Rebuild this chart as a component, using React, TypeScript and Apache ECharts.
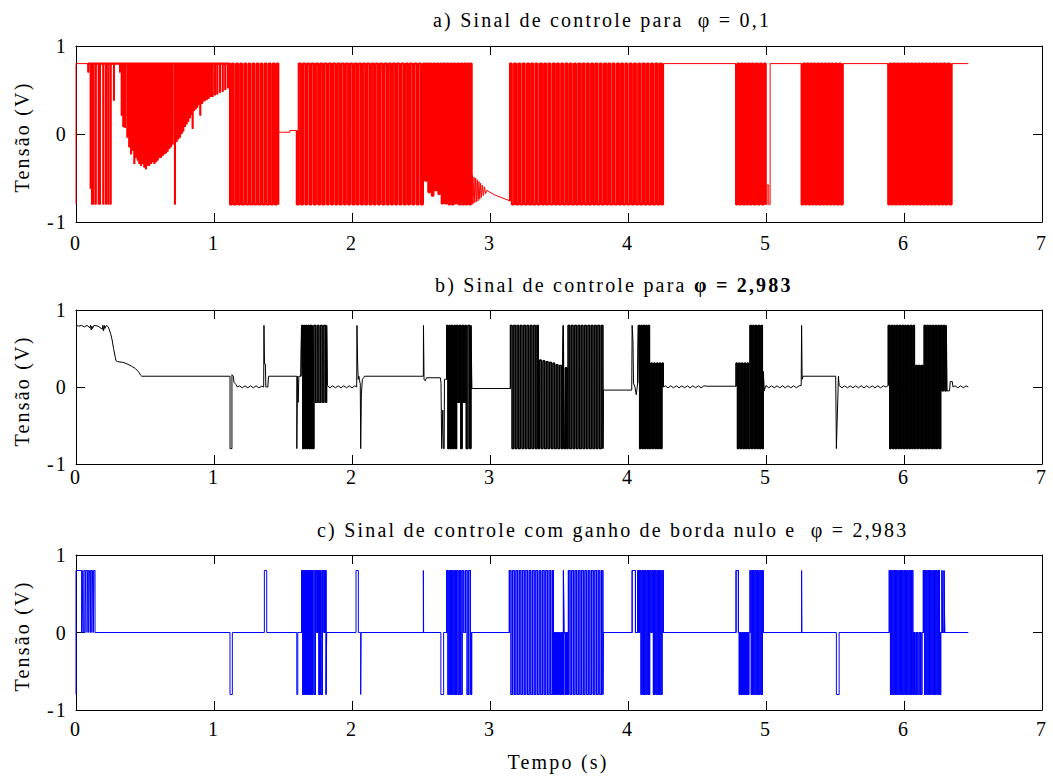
import React, { useEffect, useRef } from "react";
import * as echarts from "echarts";

type P = [number, number];

// ---------- axis ticks ----------
const xTicks = [0, 1, 2, 3, 4, 5, 6, 7];
const yTicks = [-1, 0, 1];

// ---------- titles ----------
const titleA = "a) Sinal de controle para  φ = 0,1";
const titleBPlain = "b) Sinal de controle para";
const titleBBold = "φ = 2,983";
const titleC = "c) Sinal de controle com ganho de borda nulo e  φ = 2,983";
const yName = "Tensão (V)";
const xName = "Tempo (s)";

// ---------- panel a (φ = 0,1), red ----------
const aLead: P[] = [[0, -0.8], [0, 0.8], [0.089, 0.8]];
const aDipsEarly: P[] = [[0.089, 0.7], [0.106, -0.62], [0.116, -0.8], [0.126, -0.8], [0.143, -0.8], [0.164, -0.8], [0.174, -0.8], [0.198, -0.8], [0.217, -0.8], [0.234, -0.8], [0.251, -0.8], [0.275, 0.38]];
const aDipsRamp: P[] = [[0.319, 0.7], [0.331, 0.21], [0.343, 0.08], [0.355, 0.07], [0.372, -0.04], [0.386, -0.15], [0.399, -0.23], [0.411, -0.19], [0.423, -0.34], [0.435, -0.27], [0.447, -0.3], [0.459, -0.34], [0.471, -0.36], [0.483, -0.34], [0.495, -0.38], [0.507, -0.4], [0.519, -0.36], [0.531, -0.36], [0.543, -0.34], [0.556, -0.32], [0.568, -0.34], [0.58, -0.32], [0.592, -0.3], [0.604, -0.27], [0.616, -0.27], [0.628, -0.25], [0.64, -0.23], [0.652, -0.22], [0.664, -0.2], [0.676, -0.17], [0.688, -0.15], [0.7, -0.12], [0.717, -0.8], [0.729, -0.09], [0.742, -0.06], [0.754, -0.04], [0.766, 0.0], [0.778, 0.03], [0.79, 0.08], [0.802, 0.11], [0.814, 0.14], [0.826, 0.18], [0.838, 0.22], [0.845, 0.06], [0.855, 0.26], [0.867, 0.28], [0.879, 0.3], [0.891, 0.33], [0.901, 0.21], [0.913, 0.34], [0.925, 0.37], [0.937, 0.38], [0.949, 0.39], [0.961, 0.4], [0.976, 0.42], [0.99, 0.42], [1.007, 0.44], [1.024, 0.45], [1.043, 0.47], [1.063, 0.48], [1.082, 0.5], [1.101, 0.52]];
const aBurst1: number[] = [1.116, 1.13, 1.143, 1.16, 1.174, 1.19, 1.203, 1.22, 1.233, 1.25, 1.262, 1.279, 1.292, 1.309, 1.321, 1.338, 1.35, 1.367, 1.38, 1.397, 1.41, 1.426, 1.44, 1.455, 1.466];
const aGap1: P[] = [[1.466, 0.02], [1.55, 0.02], [1.55, 0.04], [1.6, 0.04]];
const aBurst2: number[] = [1.6, 1.614, 1.63, 1.645, 1.662, 1.676, 1.693, 1.707, 1.724, 1.738, 1.755, 1.77, 1.786, 1.8, 1.817, 1.831, 1.848, 1.862, 1.879, 1.894, 1.91, 1.924, 1.941, 1.955, 1.972, 1.986, 2.003, 2.018, 2.034, 2.048, 2.065, 2.079, 2.096, 2.11, 2.127, 2.142, 2.158, 2.172, 2.189, 2.203, 2.22, 2.234, 2.251, 2.266, 2.282, 2.296, 2.313, 2.327, 2.344, 2.358, 2.375, 2.39, 2.406, 2.42, 2.437, 2.451, 2.468, 2.482, 2.499, 2.514];
const aBurst2Tail: P[] = [[2.529, -0.53], [2.54, 0.8], [2.553, -0.66], [2.565, 0.8], [2.578, -0.7], [2.59, 0.8], [2.603, -0.64], [2.615, 0.8], [2.626, -0.68], [2.638, 0.8], [2.65, -0.79], [2.662, 0.8], [2.675, -0.79], [2.687, 0.8], [2.7, -0.8], [2.712, 0.8], [2.725, -0.8], [2.737, 0.8], [2.75, -0.79], [2.762, 0.8], [2.775, -0.8], [2.787, 0.8], [2.8, -0.8], [2.812, 0.8], [2.825, -0.8], [2.837, 0.8], [2.85, -0.8], [2.86, 0.8], [2.867, -0.8]];
const aDecay: P[] = [[2.872, -0.47], [2.878, -0.79], [2.884, -0.49], [2.89, -0.78], [2.896, -0.5], [2.902, -0.77], [2.908, -0.52], [2.914, -0.76], [2.92, -0.54], [2.926, -0.74], [2.932, -0.56], [2.938, -0.72], [2.945, -0.58], [2.952, -0.7], [2.96, -0.6], [2.968, -0.68], [2.976, -0.64], [3.03, -0.69], [3.145, -0.76]];
const aBurst3: number[] = [3.145, 3.158, 3.175, 3.19, 3.206, 3.22, 3.237, 3.251, 3.268, 3.283, 3.299, 3.313, 3.33, 3.344, 3.361, 3.376, 3.392, 3.406, 3.423, 3.437, 3.454, 3.469, 3.485, 3.499, 3.516, 3.53, 3.547, 3.562, 3.578, 3.592, 3.609, 3.623, 3.64, 3.655, 3.671, 3.685, 3.702, 3.716, 3.733, 3.748, 3.764, 3.778, 3.795, 3.809, 3.826, 3.841, 3.857, 3.871, 3.888, 3.902, 3.919, 3.934, 3.95, 3.964, 3.981, 3.995, 4.012, 4.027, 4.043, 4.057, 4.074, 4.088, 4.105, 4.12, 4.136, 4.15, 4.167, 4.181, 4.198, 4.213, 4.229, 4.242, 4.254];
const aFlat1: P[] = [[4.254, 0.8], [4.783, 0.8]];
const aBurst4: number[] = [4.783, 4.795, 4.808, 4.82, 4.833, 4.845, 4.858, 4.87, 4.884, 4.897, 4.911, 4.925, 4.94, 4.955, 4.97, 4.985, 4.998];
const aBurst4Tail: P[] = [[5.008, -0.58], [5.02, -0.8], [5.03, 0.8]];
const aFlat2: P[] = [[5.258, 0.8]];
const aBurst5: number[] = [5.258, 5.27, 5.283, 5.295, 5.308, 5.32, 5.333, 5.346, 5.358, 5.371, 5.384, 5.397, 5.41, 5.423, 5.436, 5.449, 5.462, 5.475, 5.488, 5.502, 5.515, 5.529, 5.542, 5.556];
const aFlat3: P[] = [[5.556, 0.8], [5.886, 0.8]];
const aBurst6: number[] = [5.886, 5.898, 5.911, 5.923, 5.936, 5.948, 5.961, 5.974, 5.986, 5.999, 6.012, 6.025, 6.038, 6.05, 6.063, 6.076, 6.089, 6.102, 6.115, 6.128, 6.141, 6.154, 6.167, 6.18, 6.193, 6.206, 6.219, 6.232, 6.246, 6.259, 6.272, 6.286, 6.3, 6.315, 6.33, 6.345];
const aEnd: P[] = [[6.345, 0.8], [6.466, 0.8]];

// ---------- panel b (φ = 2,983), black ----------
const bLead: P[] = [[0, 0.8], [0.02, 0.79], [0.04, 0.8], [0.06, 0.78], [0.08, 0.8], [0.1, 0.77], [0.105, 0.8], [0.11, 0.74], [0.115, 0.79], [0.12, 0.76], [0.13, 0.8], [0.16, 0.79], [0.19, 0.75], [0.195, 0.8], [0.2, 0.73], [0.205, 0.8], [0.21, 0.76], [0.22, 0.8], [0.234, 0.78], [0.25, 0.7], [0.262, 0.61], [0.272, 0.5], [0.283, 0.4], [0.29, 0.34], [0.3, 0.33], [0.34, 0.32], [0.37, 0.3], [0.403, 0.27], [0.43, 0.24], [0.452, 0.2], [0.47, 0.15], [0.476, 0.14], [1.116, 0.14], [1.116, -0.8], [1.13, -0.8], [1.13, 0.16], [1.14, 0.14], [1.145, 0.06], [1.16, 0.03], [1.17, 0.0], [1.185, 0.015], [1.205, -0.01], [1.225, 0.015], [1.245, -0.01], [1.265, 0.015], [1.285, -0.01], [1.305, 0.015], [1.325, -0.01], [1.345, 0.01], [1.36, 0.0], [1.362, 0.8], [1.366, 0.3], [1.372, 0.3], [1.376, 0.0], [1.39, 0.0], [1.395, 0.14], [1.6, 0.14], [1.6, -0.8], [1.605, -0.8], [1.605, 0.14], [1.61, -0.2], [1.615, 0.14], [1.63, 0.14]];
const bBurst1: P[] = [[1.635, 0.8], [1.643, -0.8], [1.651, 0.8], [1.659, -0.8], [1.667, 0.8], [1.675, -0.8], [1.683, 0.8], [1.691, -0.8], [1.699, 0.8], [1.707, -0.8], [1.713, 0.8], [1.718, -0.8], [1.724, 0.8], [1.736, -0.2], [1.748, 0.8], [1.76, -0.2], [1.772, 0.8], [1.784, -0.2], [1.796, 0.8], [1.808, -0.2], [1.816, 0.8], [1.82, 0.02]];
const bWave1: P[] = [[1.84, -0.01], [1.86, 0.015], [1.88, -0.01], [1.9, 0.015], [1.92, -0.01], [1.94, 0.015], [1.96, -0.01], [1.98, 0.015], [2.0, -0.01], [2.02, 0.015], [2.034, 0.0]];
const bMid1: P[] = [[2.036, 0.8], [2.041, 0.3], [2.045, 0.1], [2.05, 0.14], [2.055, 0.08], [2.06, 0.04], [2.063, -0.8], [2.066, -0.8], [2.068, -0.1], [2.075, 0.1], [2.085, 0.12], [2.09, 0.14], [2.517, 0.14], [2.518, 0.8], [2.521, 0.8], [2.522, 0.1], [2.53, 0.08], [2.54, 0.12], [2.64, 0.12], [2.645, 0.05], [2.65, -0.8], [2.655, -0.8], [2.658, -0.3], [2.662, -0.8], [2.668, -0.8], [2.67, 0.1], [2.686, 0.1]];
const bBurst2: P[] = [[2.686, 0.8], [2.695, -0.8], [2.704, 0.8], [2.713, -0.8], [2.722, 0.8], [2.731, -0.8], [2.74, 0.8], [2.749, -0.8], [2.758, 0.8], [2.768, -0.2], [2.778, 0.8], [2.788, -0.8], [2.798, 0.8], [2.808, -0.2], [2.818, 0.8], [2.828, -0.8], [2.84, 0.8], [2.852, -0.8], [2.862, 0.8], [2.867, -0.02]];
const bFlat2: P[] = [[3.148, -0.02]];
const bBurst3: P[] = [[3.148, 0.8], [3.16, -0.8], [3.172, 0.8], [3.184, -0.8], [3.196, 0.8], [3.208, -0.8], [3.22, 0.8], [3.232, -0.8], [3.244, 0.8], [3.256, -0.8], [3.268, 0.8], [3.28, -0.8], [3.292, 0.8], [3.304, -0.8], [3.316, 0.8], [3.328, -0.8], [3.34, 0.8], [3.35, -0.8], [3.36, 0.35], [3.372, -0.8], [3.384, 0.34], [3.396, -0.8], [3.408, 0.33], [3.42, -0.8], [3.432, 0.32], [3.444, -0.8], [3.456, 0.31], [3.468, -0.8], [3.48, 0.29], [3.492, -0.8], [3.504, 0.28], [3.516, -0.8], [3.526, 0.25], [3.531, 0.8], [3.536, -0.8], [3.546, 0.25], [3.556, -0.8], [3.566, 0.8], [3.578, -0.8], [3.59, 0.8], [3.602, -0.8], [3.614, 0.8], [3.626, -0.8], [3.638, 0.8], [3.65, -0.8], [3.662, 0.8], [3.674, -0.8], [3.686, 0.8], [3.698, -0.8], [3.71, 0.8], [3.722, -0.8], [3.734, 0.8], [3.746, -0.8], [3.758, 0.8], [3.77, -0.8], [3.782, 0.8], [3.794, -0.8], [3.806, 0.8], [3.818, -0.8], [3.821, -0.04]];
const bMid2: P[] = [[4.027, -0.04], [4.03, 0.8], [4.036, 0.6], [4.04, 0.05], [4.05, 0.0], [4.06, -0.1], [4.07, 0.05]];
const bBurst4: P[] = [[4.075, 0.8], [4.084, -0.8], [4.093, 0.8], [4.102, -0.8], [4.111, 0.8], [4.12, -0.8], [4.129, 0.8], [4.138, -0.8], [4.147, 0.8], [4.156, -0.8], [4.166, 0.31], [4.176, -0.8], [4.186, 0.31], [4.196, -0.8], [4.206, 0.31], [4.216, -0.8], [4.226, 0.31], [4.236, -0.8], [4.246, 0.31], [4.256, 0.0]];
const bWave2: P[] = [[4.27, 0.015], [4.29, -0.01], [4.31, 0.015], [4.33, -0.01], [4.35, 0.015], [4.37, -0.01], [4.39, 0.015], [4.41, -0.01], [4.43, 0.015], [4.45, -0.01], [4.47, 0.015], [4.49, -0.01], [4.51, 0.015], [4.53, -0.01], [4.55, 0.015], [4.57, 0.01], [4.783, 0.01]];
const bBurst5: P[] = [[4.783, 0.31], [4.793, -0.8], [4.803, 0.31], [4.813, -0.8], [4.823, 0.31], [4.833, -0.8], [4.843, 0.31], [4.853, -0.8], [4.863, 0.31], [4.873, -0.8], [4.884, 0.8], [4.894, -0.8], [4.904, 0.8], [4.914, -0.8], [4.924, 0.8], [4.934, -0.8], [4.944, 0.8], [4.954, -0.8], [4.964, 0.8], [4.974, -0.8], [4.98, 0.2], [4.985, -0.05]];
const bWave3: P[] = [[4.99, -0.03], [5.0, 0.02], [5.02, -0.01], [5.04, 0.015], [5.06, -0.01], [5.08, 0.015], [5.1, -0.01], [5.12, 0.015], [5.14, -0.01], [5.16, 0.015], [5.18, -0.01], [5.2, 0.015], [5.22, -0.01], [5.24, 0.015], [5.255, 0.02], [5.258, 0.8], [5.262, 0.1], [5.268, 0.14], [5.505, 0.14], [5.51, -0.8], [5.525, 0.14], [5.53, 0.02], [5.55, -0.01], [5.57, 0.015], [5.59, -0.01], [5.61, 0.015], [5.63, -0.01], [5.65, 0.015], [5.67, -0.01], [5.69, 0.015], [5.71, -0.01], [5.73, 0.015], [5.75, -0.01], [5.77, 0.015], [5.79, -0.01], [5.81, 0.015], [5.83, -0.01], [5.85, 0.015], [5.87, 0.0], [5.886, 0.02]];
const bBurst6: P[] = [[5.886, 0.8], [5.896, -0.8], [5.906, 0.8], [5.916, -0.8], [5.926, 0.8], [5.936, -0.8], [5.946, 0.8], [5.956, -0.8], [5.966, 0.8], [5.976, -0.8], [5.986, 0.8], [5.996, -0.8], [6.006, 0.8], [6.016, -0.8], [6.026, 0.8], [6.036, -0.8], [6.046, 0.8], [6.056, -0.8], [6.066, 0.8], [6.076, -0.8], [6.086, 0.28], [6.096, -0.8], [6.106, 0.28], [6.116, -0.8], [6.126, 0.28], [6.136, -0.8], [6.146, 0.8], [6.156, -0.8], [6.166, 0.8], [6.176, -0.8], [6.186, 0.8], [6.196, -0.8], [6.206, 0.8], [6.216, -0.8], [6.226, 0.8], [6.236, -0.8], [6.246, 0.8], [6.256, -0.8], [6.266, 0.8], [6.276, -0.05], [6.286, 0.8], [6.296, -0.05], [6.306, 0.8], [6.31, -0.05]];
const bEnd: P[] = [[6.33, -0.05], [6.335, 0.07], [6.35, 0.07], [6.355, 0.0], [6.37, 0.015], [6.39, -0.01], [6.41, 0.015], [6.43, -0.01], [6.45, 0.015], [6.466, 0.0]];

// ---------- panel c (ganho de borda nulo), blue ----------
const cStart: P[] = [[0, -0.8]];
const cLead: P[] = [[0, 0.8], [0.041, 0], [0.045, 0.8], [0.05, 0], [0.056, 0.8], [0.065, 0], [0.07, 0.8], [0.08, 0], [0.084, 0.8], [0.092, 0], [0.097, 0.8], [0.104, 0], [0.108, 0.8], [0.115, 0], [0.12, 0.8], [0.126, 0], [0.13, 0.8], [0.138, 0], [1.116, -0.8], [1.133, 0], [1.365, 0.8], [1.382, 0], [1.6, -0.8], [1.607, 0]];
const cBurst1: P[] = [[1.635, 0.8], [1.643, -0.8], [1.651, 0.8], [1.659, -0.8], [1.667, 0.8], [1.675, -0.8], [1.683, 0.8], [1.691, -0.8], [1.699, 0.8], [1.707, -0.8], [1.715, 0.8], [1.725, -0.8], [1.735, 0.8], [1.745, 0], [1.752, 0.8], [1.76, -0.8], [1.768, 0.8], [1.776, -0.8], [1.786, 0.8], [1.796, 0], [1.804, 0.8], [1.812, -0.8], [1.816, 0]];
const cMid1: P[] = [[2.029, 0.8], [2.046, 0], [2.063, -0.8], [2.066, 0], [2.517, 0.8], [2.519, 0], [2.644, -0.8], [2.664, 0]];
const cBurst2: P[] = [[2.686, 0.8], [2.695, -0.8], [2.704, 0.8], [2.713, -0.8], [2.722, 0.8], [2.731, -0.8], [2.74, 0.8], [2.749, -0.8], [2.758, 0.8], [2.768, -0.8], [2.778, 0.8], [2.788, -0.8], [2.798, 0.8], [2.81, 0], [2.822, 0.8], [2.834, -0.8], [2.846, 0.8], [2.858, -0.8], [2.867, 0]];
const cBurst3: P[] = [[3.14, 0.8], [3.152, -0.8], [3.164, 0.8], [3.176, -0.8], [3.188, 0.8], [3.2, -0.8], [3.212, 0.8], [3.224, -0.8], [3.236, 0.8], [3.248, -0.8], [3.26, 0.8], [3.272, -0.8], [3.284, 0.8], [3.296, -0.8], [3.308, 0.8], [3.32, -0.8], [3.332, 0.8], [3.344, -0.8], [3.356, 0.8], [3.368, -0.8], [3.38, 0.8], [3.392, -0.8], [3.404, 0.8], [3.416, -0.8], [3.428, 0.8], [3.44, -0.8], [3.452, 0.8], [3.46, -0.8], [3.468, 0], [3.476, -0.8], [3.484, 0], [3.492, -0.8], [3.5, 0], [3.508, -0.8], [3.516, 0], [3.524, -0.8], [3.532, 0.8], [3.536, 0], [3.544, -0.8], [3.552, 0], [3.56, -0.8], [3.568, 0.8], [3.58, -0.8], [3.592, 0.8], [3.604, -0.8], [3.616, 0.8], [3.628, -0.8], [3.64, 0.8], [3.652, -0.8], [3.664, 0.8], [3.676, -0.8], [3.688, 0.8], [3.7, -0.8], [3.712, 0.8], [3.724, -0.8], [3.736, 0.8], [3.748, -0.8], [3.76, 0.8], [3.772, -0.8], [3.784, 0.8], [3.796, -0.8], [3.808, 0.8], [3.818, -0.8], [3.821, 0]];
const cBurst4: P[] = [[4.03, 0.8], [4.054, 0], [4.07, 0.8], [4.078, 0], [4.085, 0.8], [4.094, -0.8], [4.103, 0.8], [4.112, -0.8], [4.121, 0.8], [4.13, -0.8], [4.139, 0.8], [4.148, -0.8], [4.157, 0.8], [4.166, 0], [4.175, 0.8], [4.184, -0.8], [4.193, 0.8], [4.202, -0.8], [4.211, 0.8], [4.22, -0.8], [4.229, 0.8], [4.238, -0.8], [4.247, 0.8], [4.256, 0]];
const cBurst5: P[] = [[4.783, 0.8], [4.8, 0], [4.806, -0.8], [4.812, 0], [4.82, -0.8], [4.828, 0], [4.836, -0.8], [4.844, 0], [4.852, -0.8], [4.86, 0], [4.868, -0.8], [4.876, 0], [4.884, 0.8], [4.893, -0.8], [4.902, 0.8], [4.911, -0.8], [4.92, 0.8], [4.929, -0.8], [4.938, 0.8], [4.947, -0.8], [4.956, 0.8], [4.965, -0.8], [4.974, 0.8], [4.98, 0]];
const cMid2: P[] = [[5.258, 0.8], [5.26, 0], [5.51, -0.8], [5.53, 0]];
const cBurst6: P[] = [[5.893, 0.8], [5.902, -0.8], [5.911, 0.8], [5.92, -0.8], [5.929, 0.8], [5.938, -0.8], [5.947, 0.8], [5.956, -0.8], [5.965, 0.8], [5.974, -0.8], [5.983, 0.8], [5.992, -0.8], [6.001, 0.8], [6.01, -0.8], [6.019, 0.8], [6.028, -0.8], [6.037, 0.8], [6.046, -0.8], [6.055, 0.8], [6.064, -0.8], [6.072, 0], [6.08, -0.8], [6.09, 0], [6.1, -0.8], [6.11, 0], [6.12, -0.8], [6.13, 0], [6.14, 0.8], [6.149, -0.8], [6.158, 0.8], [6.167, -0.8], [6.176, 0.8], [6.185, -0.8], [6.194, 0.8], [6.203, -0.8], [6.212, 0.8], [6.221, -0.8], [6.23, 0.8], [6.239, -0.8], [6.248, 0.8], [6.257, -0.8], [6.266, 0], [6.275, 0.8], [6.28, 0], [6.29, 0.8], [6.295, 0]];
const cEnd: P[] = [[6.466, 0]];

// ---------- assembling the polylines from the read values ----------
type Part =
  | { pts: P[]; thick?: boolean }
  | { sq: number[]; lv: P; thick?: boolean }
  | { steps: P[]; thick?: boolean }
  | { dips: P[]; base: number; thick?: boolean };

function build(parts: Part[]): { all: P[]; thick: P[][] } {
  const out: P[] = [];
  const thick: P[][] = [];
  let cur = 0;
  for (const p of parts) {
    const start = out.length;
    if ("pts" in p) {
      for (const q of p.pts) out.push(q);
      cur = p.pts[p.pts.length - 1][1];
    } else if ("sq" in p) {
      p.sq.forEach((t, i) => {
        const v = p.lv[i % 2];
        out.push([t, cur], [t, v]);
        cur = v;
      });
    } else if ("steps" in p) {
      for (const [t, v] of p.steps) {
        out.push([t, cur], [t, v]);
        cur = v;
      }
    } else {
      for (const [t, lo] of p.dips) out.push([t, p.base], [t, lo], [t, p.base]);
      cur = p.base;
    }
    if (p.thick) thick.push(out.slice(Math.max(0, start - 1)));
  }
  return { all: out, thick };
}

const seriesA = build([
  { pts: aLead },
  { dips: aDipsEarly, base: 0.8, thick: true },
  { dips: aDipsRamp, base: 0.8, thick: true },
  { sq: aBurst1, lv: [-0.8, 0.8], thick: true },
  { pts: aGap1 },
  { sq: aBurst2, lv: [-0.8, 0.8], thick: true },
  { steps: aBurst2Tail, thick: true },
  { pts: aDecay },
  { sq: aBurst3, lv: [0.8, -0.8], thick: true },
  { pts: aFlat1 },
  { sq: aBurst4, lv: [-0.8, 0.8], thick: true },
  { steps: aBurst4Tail },
  { pts: aFlat2 },
  { sq: aBurst5, lv: [-0.8, 0.8], thick: true },
  { pts: aFlat3 },
  { sq: aBurst6, lv: [-0.8, 0.8], thick: true },
  { pts: aEnd },
]);

const seriesB = build([
  { pts: bLead },
  { steps: bBurst1, thick: true },
  { pts: bWave1 },
  { pts: bMid1 },
  { steps: bBurst2, thick: true },
  { pts: bFlat2 },
  { steps: bBurst3, thick: true },
  { pts: bMid2 },
  { steps: bBurst4, thick: true },
  { pts: bWave2 },
  { steps: bBurst5, thick: true },
  { pts: bWave3 },
  { steps: bBurst6, thick: true },
  { pts: bEnd },
]);

const seriesC = build([
  { pts: cStart },
  { steps: cLead },
  { steps: cBurst1, thick: true },
  { steps: cMid1 },
  { steps: cBurst2, thick: true },
  { steps: cBurst3, thick: true },
  { steps: cBurst4, thick: true },
  { steps: cBurst5, thick: true },
  { steps: cMid2 },
  { steps: cBurst6, thick: true },
  { pts: cEnd },
]);

const FONT = "'Liberation Serif', 'Times New Roman', Times, serif";
const FONT_CSS = "20px " + FONT;
const FONT_BOLD_CSS = "bold 20px " + FONT;

export default function App() {
  const ref = useRef<HTMLDivElement>(null);

  useEffect(() => {
    if (!ref.current) return;
    const chart = echarts.init(ref.current, undefined, { renderer: "svg" });

    const grids = [
      { left: 76, top: 46, width: 966, height: 176 },
      { left: 76, top: 310, width: 966, height: 154 },
      { left: 76, top: 555, width: 966, height: 155 },
    ];
    const xMargins = [11, 3, 9];
    const colors = ["#ff0000", "#000000", "#0000ff"];
    const thickW = [2.1, 1.35, 1.1];
    const datas = [seriesA, seriesB, seriesC];

    const axisLine = { show: true, onZero: false, lineStyle: { color: "#000", width: 1 } };
    const tick = { show: true, inside: true, length: 9, lineStyle: { color: "#000", width: 1 } };

    const xAxis: any[] = [];
    const yAxis: any[] = [];
    grids.forEach((_, i) => {
      xAxis.push({
        type: "value", gridIndex: i, position: "bottom",
        min: xTicks[0], max: xTicks[xTicks.length - 1], interval: 1,
        axisLine, axisTick: tick, splitLine: { show: false },
        axisLabel: { show: true, fontSize: 20, fontFamily: FONT, color: "#000", margin: xMargins[i] },
      });
      xAxis.push({
        type: "value", gridIndex: i, position: "top",
        min: xTicks[0], max: xTicks[xTicks.length - 1], interval: 1,
        axisLine, axisTick: tick, splitLine: { show: false }, axisLabel: { show: false },
      });
      yAxis.push({
        type: "value", gridIndex: i, position: "left",
        min: yTicks[0], max: yTicks[yTicks.length - 1], interval: 1,
        axisLine, axisTick: tick, splitLine: { show: false },
        axisLabel: { show: true, fontSize: 20, fontFamily: FONT, color: "#000", margin: 8 },
      });
      yAxis.push({
        type: "value", gridIndex: i, position: "right",
        min: yTicks[0], max: yTicks[yTicks.length - 1], interval: 1,
        axisLine, axisTick: tick, splitLine: { show: false }, axisLabel: { show: false },
      });
    });

    const series: any[] = [];
    datas.forEach((d, i) => {
      series.push({
        type: "line", xAxisIndex: 2 * i, yAxisIndex: 2 * i,
        data: d.all, symbol: "none", showSymbol: false, silent: true,
        lineStyle: { color: colors[i], width: 1 }, itemStyle: { color: colors[i] },
      });
      d.thick.forEach((seg) => {
        series.push({
          type: "line", xAxisIndex: 2 * i, yAxisIndex: 2 * i,
          data: seg, symbol: "none", showSymbol: false, silent: true,
          lineStyle: { color: colors[i], width: thickW[i] }, itemStyle: { color: colors[i] },
        });
      });
    });

    const txt = (x: number, y: number, text: string, align: string = "left", font: string = FONT_CSS) => ({
      type: "text", x, y, silent: true,
      style: {
        text, fill: "#000", font,
        textAlign: align, textVerticalAlign: "middle", align, verticalAlign: "middle",
      },
    });

    const yNames = [137, 391, 636].map((y) => ({
      type: "text", x: 22, y, rotation: Math.PI / 2, silent: true,
      style: {
        text: yName, fill: "#000", font: FONT_CSS,
        textAlign: "center", textVerticalAlign: "middle", align: "center", verticalAlign: "middle",
      },
    }));

    chart.setOption({
      animation: false,
      backgroundColor: "#ffffff",
      grid: grids.map((g) => ({ ...g, containLabel: false })),
      xAxis,
      yAxis,
      series,
      graphic: [
        txt(433, 20, titleA),
        txt(435, 285, titleBPlain),
        txt(694, 285, titleBBold, "left", FONT_BOLD_CSS),
        txt(317, 530, titleC),
        txt(558, 762, xName, "center"),
        ...yNames,
      ],
    } as any);

    return () => chart.dispose();
  }, []);

  return (
    <>
      <style>{`#sinal-chart text { letter-spacing: 2.2px; }`}</style>
      <div
        id="sinal-chart"
        ref={ref}
        style={{ position: "absolute", left: 0, top: 0, width: 1053, height: 778, background: "#fff" }}
      />
    </>
  );
}
